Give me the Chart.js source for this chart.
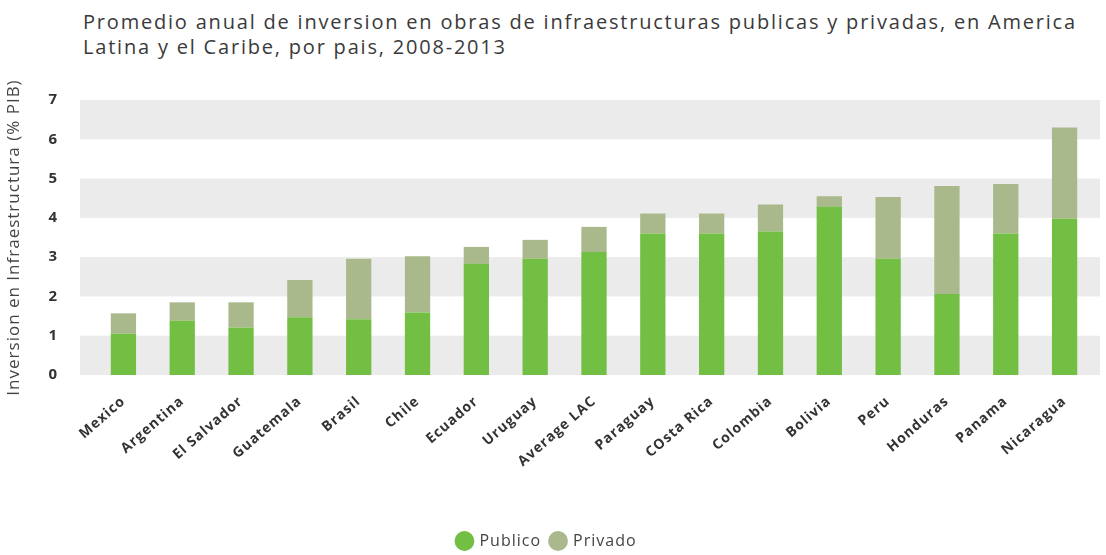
<!DOCTYPE html>
<html>
<head>
<meta charset="utf-8">
<script src="https://cdn.jsdelivr.net/npm/chart.js@4.4.1/dist/chart.umd.min.js"></script>
<style>
  html, body { margin: 0; padding: 0; background: #fff; }
  #wrap { position: relative; width: 1106px; height: 555px; }
  #title { position: absolute; left: 83px; top: 9px; font: 20px "Open Sans", sans-serif; letter-spacing: 1.8px;
    color: #3a3a3a; line-height: 25px; white-space: nowrap; }
  canvas { position: absolute; left: 0; top: 0; }
</style>
</head>
<body>
<div id="wrap">
  <div id="title">Promedio anual de inversion en obras de infraestructuras publicas y privadas, en America<br>Latina y el Caribe, por pais, 2008-2013</div>
  <canvas id="chart" width="1106" height="555"></canvas>
</div>
<script>
const paises = ["Mexico", "Argentina", "El Salvador", "Guatemala", "Brasil", "Chile", "Ecuador", "Uruguay",
  "Average LAC", "Paraguay", "COsta Rica", "Colombia", "Bolivia", "Peru", "Honduras", "Panama", "Nicaragua"];
const publico = [1.05, 1.38, 1.21, 1.47, 1.42, 1.59, 2.83, 2.96, 3.13, 3.6, 3.6, 3.65, 4.28, 2.96, 2.06, 3.6, 3.98];
const privado = [0.52, 0.47, 0.64, 0.95, 1.54, 1.43, 0.43, 0.48, 0.64, 0.51, 0.51, 0.69, 0.27, 1.57, 2.75, 1.26, 2.32];
const yTicks = [0, 1, 2, 3, 4, 5, 6, 7];

// alternating grey bands behind the bars: [0,1], [2,3], [4,5], [6,7]
const bands = {
  id: "bands",
  beforeDatasetsDraw(chart) {
    const { ctx, chartArea: a, scales: { y } } = chart;
    ctx.save();
    ctx.fillStyle = "#ebebeb";
    for (let v = 0; v < 7; v += 2) {
      const top = y.getPixelForValue(v + 1), bot = y.getPixelForValue(v);
      ctx.fillRect(a.left - 14, top, a.right - a.left + 20, bot - top);
    }
    ctx.restore();
  },
};

// the source image has loosely spaced lettering everywhere
const spacing = {
  id: "spacing",
  beforeLayout(chart) { chart.ctx.letterSpacing = "1px"; },
  beforeDraw(chart) { chart.ctx.letterSpacing = "1px"; },
};

new Chart(document.getElementById("chart"), {
  type: "bar",
  data: {
    labels: paises,
    datasets: [
      { label: "Publico", data: publico, backgroundColor: "#72bf44", barPercentage: 0.43, categoryPercentage: 1 },
      { label: "Privado", data: privado, backgroundColor: "#aab98c", barPercentage: 0.43, categoryPercentage: 1 },
    ],
  },
  plugins: [spacing, bands],
  options: {
    responsive: false,
    animation: false,
    layout: { padding: { top: 100, right: 12, bottom: -4, left: 0 } },
    plugins: {
      legend: {
        position: "bottom",
        labels: { usePointStyle: true, pointStyle: "circle", boxWidth: 14, boxHeight: 14, padding: 10,
          color: "#444", font: { family: "Open Sans", size: 16 } },
      },
      tooltip: { enabled: false },
    },
    scales: {
      x: {
        stacked: true,
        grid: { display: false },
        border: { display: false },
        ticks: { maxRotation: 41, minRotation: 41, color: "#333", padding: 10,
          font: { family: "Open Sans", size: 14, weight: "bold" } },
        afterFit: (axis) => { axis.height = 148; },
      },
      y: {
        stacked: true,
        min: 0, max: 7,
        afterBuildTicks: (axis) => { axis.ticks = yTicks.map((v) => ({ value: v })); },
        grid: { display: false },
        border: { display: false },
        ticks: { color: "#333", padding: 28, font: { family: "Open Sans", size: 15, weight: "bold" } },
        title: { display: true, text: "Inversion en Infraestructura (% PIB)", color: "#444",
          padding: { top: 4, bottom: 4 }, font: { family: "Open Sans", size: 17 } },
        afterFit: (axis) => { axis.width = 94; },
      },
    },
  },
});
</script>
</body>
</html>
